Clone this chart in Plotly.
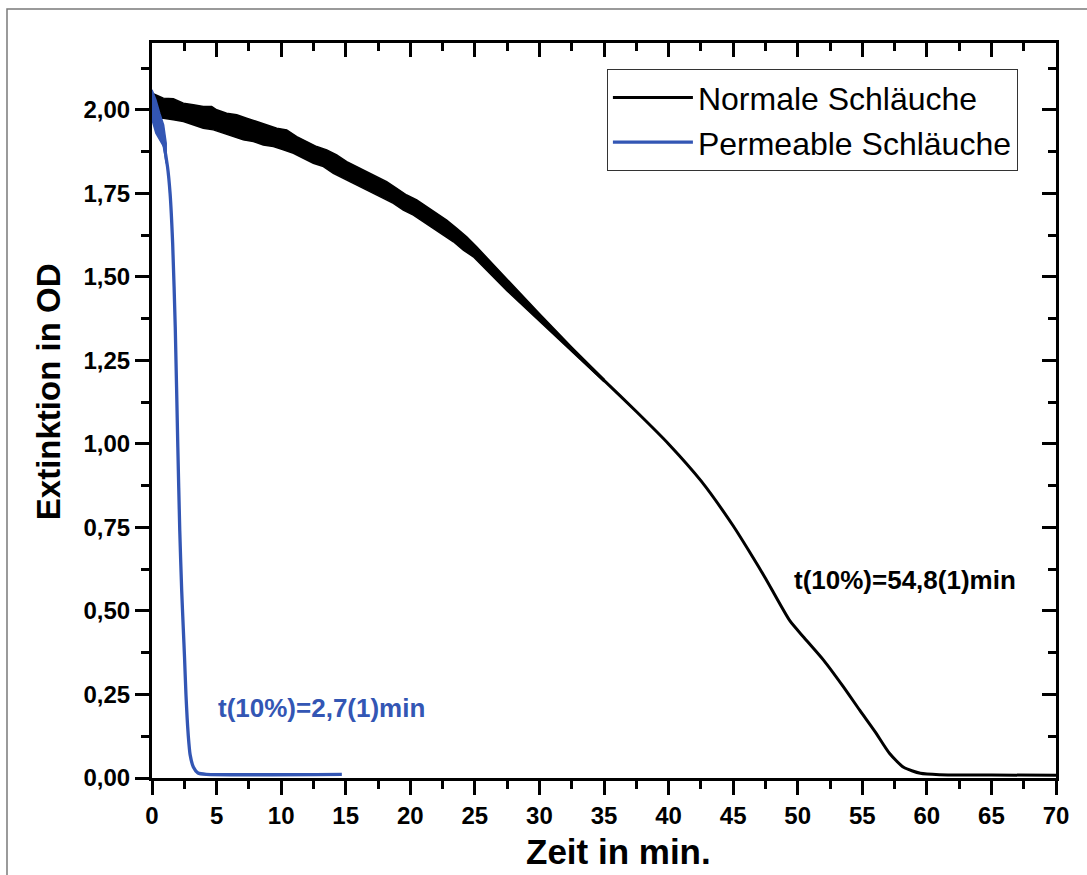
import plotly.graph_objects as go

# ---- data ----
normal_t = [0, 2.5, 5, 7.5, 10, 12.5, 15, 17.5, 20, 22.5, 25, 27.5, 30, 32.5, 35, 37.5, 40,
            42.5, 45, 46.3, 47.5, 49.4, 50.5, 52, 53.5, 54.8, 56, 57.1, 58.2, 59.5, 61, 65, 70]
normal_od = [2.02, 1.99, 1.965, 1.94, 1.91, 1.865, 1.815, 1.765, 1.71, 1.645, 1.575, 1.475, 1.378,
             1.283, 1.19, 1.097, 1.0, 0.89, 0.755, 0.675, 0.598, 0.47, 0.42, 0.353, 0.275,
             0.203, 0.138, 0.074, 0.032, 0.014, 0.010, 0.009, 0.008]

# noise envelope of the black curve (upper and lower edges)
normal_hi_t = [0, 0.88, 1.65, 2.43, 3.20, 3.97, 4.62, 5.01, 5.78, 6.56, 7.33, 8.11, 8.88, 9.66,
               10.43, 11.21, 11.98, 12.75, 13.53, 14.30, 15.08, 15.85, 16.63, 17.40, 18.17,
               18.95, 19.72, 20.50, 21.27, 22.05, 22.82, 23.60, 24.37, 25.14, 27.5, 30, 32.5, 35]
normal_hi_od = [2.05, 2.035, 2.033, 2.02, 2.015, 2.01, 2.01, 2.0, 1.99, 1.985, 1.975, 1.965,
                1.955, 1.945, 1.94, 1.92, 1.905, 1.89, 1.88, 1.865, 1.845, 1.83, 1.815, 1.80,
                1.785, 1.765, 1.745, 1.73, 1.71, 1.69, 1.67, 1.645, 1.62, 1.59, 1.492, 1.39,
                1.29, 1.194]
normal_lo_t = [0, 0.88, 1.65, 2.43, 3.20, 3.97, 4.75, 5.52, 6.30, 7.07, 7.85, 8.62, 9.40, 10.17,
               10.95, 11.72, 12.49, 13.27, 14.04, 14.82, 15.59, 16.37, 17.14, 17.92, 18.69,
               19.46, 20.24, 21.01, 21.79, 22.56, 23.34, 24.11, 24.88, 27.5, 30, 32.5, 35]
normal_lo_od = [1.975, 1.975, 1.97, 1.965, 1.955, 1.945, 1.94, 1.93, 1.92, 1.91, 1.905, 1.895,
                1.89, 1.88, 1.87, 1.855, 1.84, 1.83, 1.81, 1.795, 1.78, 1.765, 1.75, 1.735,
                1.72, 1.70, 1.685, 1.665, 1.645, 1.625, 1.605, 1.58, 1.56, 1.458, 1.366,
                1.276, 1.186]

perm_t = [0, 0.3, 0.6, 0.9, 1.2, 1.4, 1.6, 1.8, 2.0, 2.15, 2.3, 2.42, 2.52, 2.63, 2.72, 2.81,
          2.95, 3.2, 3.56, 4.2, 14.7]
perm_od = [2.03, 1.99, 1.95, 1.90, 1.83, 1.75, 1.60, 1.35, 0.99, 0.74, 0.56, 0.45, 0.36, 0.25,
           0.18, 0.126, 0.07, 0.033, 0.015, 0.011, 0.011]

perm_band_t = [0, 0.3, 0.6, 0.9, 1.1]
perm_band_hi = [2.06, 2.03, 1.99, 1.955, 1.90]
perm_band_lo = [1.97, 1.93, 1.91, 1.89, 1.84]

x_ticks = list(range(0, 75, 5))
y_ticks = [0, 0.25, 0.5, 0.75, 1.0, 1.25, 1.5, 1.75, 2.0]
y_ticklabels = ["0,00", "0,25", "0,50", "0,75", "1,00", "1,25", "1,50", "1,75", "2,00"]

BLACK = "#000000"
BLUE = "#3356b4"
FONT = "Liberation Sans, Arial, sans-serif"

fig = go.Figure()

# black curve + its noise band
fig.add_trace(go.Scatter(x=normal_t, y=normal_od, mode="lines", name="Normale Schläuche",
                         line=dict(color=BLACK, width=3, shape="spline", smoothing=0.6)))
fig.add_trace(go.Scatter(x=normal_hi_t + normal_lo_t[::-1], y=normal_hi_od + normal_lo_od[::-1],
                         mode="lines", fill="toself", fillcolor=BLACK,
                         line=dict(color=BLACK, width=1.5), showlegend=False, hoverinfo="skip"))

# blue curve + its noise band
fig.add_trace(go.Scatter(x=perm_t, y=perm_od, mode="lines", name="Permeable Schläuche",
                         line=dict(color=BLUE, width=3.3, shape="spline", smoothing=0.6)))
fig.add_trace(go.Scatter(x=perm_band_t + perm_band_t[::-1], y=perm_band_hi + perm_band_lo[::-1],
                         mode="lines", fill="toself", fillcolor=BLUE,
                         line=dict(color=BLUE, width=1.5), showlegend=False, hoverinfo="skip"))

# dummy trace to activate mirrored axes
fig.add_trace(go.Scatter(x=[None], y=[None], xaxis="x2", yaxis="y2", showlegend=False,
                         hoverinfo="skip"))

XR = [0, 70]
YR = [0, 2.2]

fig.update_layout(
    width=1087, height=875,
    margin=dict(l=152, r=31, t=43, b=97),
    paper_bgcolor="white", plot_bgcolor="white",
    font=dict(family=FONT, color="black"),
    showlegend=True,
    legend=dict(x=0.503, y=0.9646, xanchor="left", yanchor="top", traceorder="normal",
                bordercolor="#333333", borderwidth=1.2, bgcolor="white",
                font=dict(family=FONT, size=32, color="black"),
                itemwidth=80, tracegroupgap=0),
    xaxis=dict(range=XR, tickmode="array", tickvals=x_ticks,
               ticks="outside", ticklen=14, tickwidth=2.5, tickcolor="black",
               showline=True, linewidth=3, linecolor="black", showgrid=False, zeroline=False,
               tickfont=dict(family=FONT, size=24, color="black", weight="bold"),
               minor=dict(dtick=2.5, ticks="outside", ticklen=8, tickwidth=2.5, tickcolor="black",
                          showgrid=False)),
    yaxis=dict(range=YR, tickmode="array", tickvals=y_ticks, ticktext=y_ticklabels,
               ticks="outside", ticklen=14, tickwidth=2.5, tickcolor="black",
               showline=True, linewidth=3, linecolor="black", showgrid=False, zeroline=False,
               tickfont=dict(family=FONT, size=24, color="black", weight="bold"),
               minor=dict(dtick=0.125, tick0=0, ticks="outside", ticklen=8, tickwidth=2.5,
                          tickcolor="black", showgrid=False)),
    xaxis2=dict(range=XR, overlaying="x", side="top", anchor="y",
                tickmode="array", tickvals=x_ticks, showticklabels=False,
                ticks="inside", ticklen=14, tickwidth=2.5, tickcolor="black",
                showline=True, linewidth=3, linecolor="black", showgrid=False, zeroline=False,
                minor=dict(dtick=2.5, ticks="inside", ticklen=8, tickwidth=2.5,
                           tickcolor="black", showgrid=False)),
    yaxis2=dict(range=YR, overlaying="y", side="right", anchor="x",
                tickmode="array", tickvals=y_ticks, showticklabels=False,
                ticks="inside", ticklen=14, tickwidth=2.5, tickcolor="black",
                showline=True, linewidth=3, linecolor="black", showgrid=False, zeroline=False,
                minor=dict(dtick=0.125, tick0=0, ticks="inside", ticklen=8, tickwidth=2.5,
                           tickcolor="black", showgrid=False)),
    annotations=[
        dict(x=-0.115, y=0.525, xref="paper", yref="paper", text="<b>Extinktion in OD</b>",
             textangle=-90, showarrow=False, xanchor="center", yanchor="middle",
             font=dict(family=FONT, size=33, color="black")),
        dict(x=0.5155, y=-0.0995, xref="paper", yref="paper", text="<b>Zeit in min.</b>",
             showarrow=False, xanchor="center", yanchor="middle",
             font=dict(family=FONT, size=35, color="black")),
        dict(x=58.3, y=0.593, xref="x", yref="y", text="<b>t(10%)=54,8(1)min</b>",
             showarrow=False, font=dict(family=FONT, size=26, color=BLACK)),
        dict(x=13.1, y=0.209, xref="x", yref="y", text="<b>t(10%)=2,7(1)min</b>",
             showarrow=False, font=dict(family=FONT, size=26, color=BLUE)),
    ],
    shapes=[
        dict(type="rect", xref="paper", yref="paper", x0=-0.1604, x1=1.04, y0=-0.14, y1=1.0463,
             line=dict(color="#7a7a7a", width=1.5), fillcolor="rgba(0,0,0,0)", layer="below"),
    ],
)

fig.write_html("out.html")
